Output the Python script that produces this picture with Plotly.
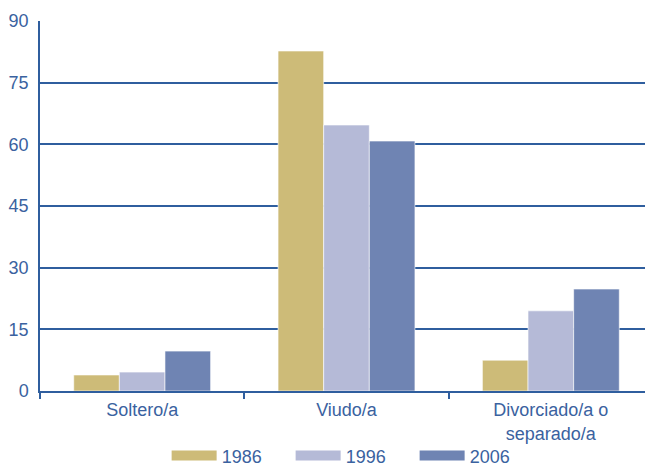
import plotly.graph_objects as go

categorias = ['Soltero/a', 'Viudo/a', 'Divorciado/a o<br>separado/a']
anios = ['1986', '1996', '2006']
v1986 = [3.9, 82.7, 7.5]
v1996 = [4.6, 64.7, 19.5]
v2006 = [9.7, 60.8, 24.8]
colores = ['#CDBB78', '#B5BAD7', '#6F84B3']

azul = '#2F5E9E'
texto = '#3A62A0'

fig = go.Figure()
for anio, vals, col in zip(anios, [v1986, v1996, v2006], colores):
    fig.add_trace(go.Bar(
        x=categorias, y=vals, name=anio,
        marker=dict(color=col, line=dict(color='rgba(255,255,255,0.6)', width=1)),
        showlegend=False
    ))
    # trazas solo para la leyenda (símbolo alargado)
    fig.add_trace(go.Scatter(
        x=[None], y=[None], name=anio, mode='lines',
        line=dict(color=col, width=13)
    ))

# la página tiene 8px de margen en el body, así que la figura es algo menor
fig.update_layout(
    width=645, height=458,
    margin=dict(l=32, r=0, t=13, b=75),
    paper_bgcolor='white', plot_bgcolor='white',
    font=dict(family='Liberation Sans, Arial, sans-serif', color=texto, size=18),
    barmode='group', bargap=0.33, bargroupgap=0,
    legend=dict(orientation='h', x=0.51, xanchor='center',
                yref='container', y=0.022, yanchor='middle',
                bgcolor='rgba(0,0,0,0)',
                font=dict(size=18), itemwidth=45, entrywidth=64,
                traceorder='normal'),
    xaxis=dict(showline=True, linecolor=azul, linewidth=1.5,
               ticks='outside', tickson='boundaries', ticklen=6,
               tickcolor=azul, tickwidth=1.5, tickfont=dict(size=18),
               ticklabelstandoff=2, automargin=False),
    yaxis=dict(range=[0, 90], dtick=15, showline=True, linecolor=azul, linewidth=1.5,
               showgrid=True, gridcolor=azul, gridwidth=1.5, zeroline=False,
               tickfont=dict(size=18), ticks='', ticklabelstandoff=6,
               automargin=False),
)

fig.write_html("out.html")
